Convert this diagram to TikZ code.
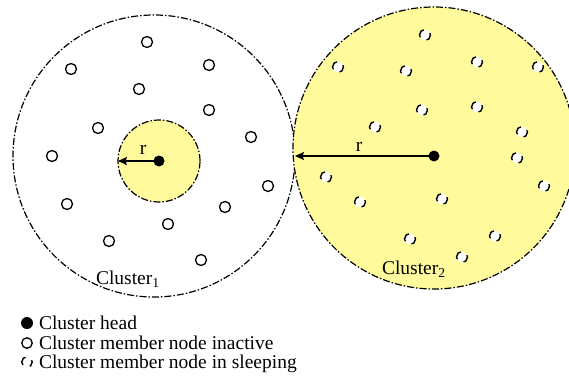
\documentclass[tikz,border=0pt]{standalone}
\usepackage{fontspec}
\setmainfont{Liberation Serif}
\usetikzlibrary{arrows.meta}
\definecolor{pale}{RGB}{255,250,155}
\begin{document}
\begin{tikzpicture}[x=1pt,y=-1pt,
  every node/.style={inner sep=0pt, outer sep=0pt},
  cluster/.style={circle, draw, line width=1.2pt, dash pattern=on 7pt off 2pt on 1.5pt off 2pt},
  inact/.style={circle, draw, line width=1.3pt, fill=white, minimum size=11pt},
  sleep/.style={circle, draw, fill=white, line width=1.4pt, minimum size=11pt, dash pattern=on 9.6pt off 7.7pt, dash phase=7.7pt},
  head/.style={circle, fill=black, minimum size=11pt},
  lbl/.style={font=\fontsize{19.5}{22}\selectfont},
  legtext/.style={lbl, anchor=base west, text height=13pt, text depth=4pt},
  rarrow/.style={line width=1.3pt, -{Stealth[length=9pt,width=8pt,inset=1.5pt]}}
]
\useasboundingbox (0,0) rectangle (569,375);
% clusters
\node[cluster, fill=white, minimum size=282pt] (c1) at (154,156) {};
\node[cluster, fill=pale, minimum size=282pt] (c2) at (434,148) {};
\node[cluster, fill=pale, minimum size=82pt] (c1in) at (159,161) {};
% heads
\node[head] (h1) at (159,161) {};
\node[head] (h2) at (434,156) {};
\coordinate (e1) at (118,161);
\coordinate (e2) at (295,156);
\draw[rarrow] (h1.center) -- (e1);
\draw[rarrow] (h2.center) -- (e2);
\node[lbl] (r1) at (143,150) {r};
\node[lbl] (r2) at (359,147) {r};
% inactive nodes in cluster 1
\node[inact] (a1) at (147,42) {};
\node[inact] (a2) at (71,69) {};
\node[inact] (a3) at (209,65) {};
\node[inact] (a4) at (139,89) {};
\node[inact] (a5) at (209,110) {};
\node[inact] (a6) at (98,128) {};
\node[inact] (a7) at (251,137) {};
\node[inact] (a8) at (52,156) {};
\node[inact] (a9) at (268,186) {};
\node[inact] (a10) at (67,204) {};
\node[inact] (a11) at (225,207) {};
\node[inact] (a12) at (168,224) {};
\node[inact] (a13) at (109,241) {};
\node[inact] (a14) at (201,260) {};
% sleeping nodes in cluster 2
\node[sleep] (s1) at (425,35) {};
\node[sleep] (s2) at (338,67) {};
\node[sleep] (s3) at (406,71) {};
\node[sleep] (s4) at (477,62) {};
\node[sleep] (s5) at (538,67) {};
\node[sleep] (s6) at (422,110) {};
\node[sleep] (s7) at (477,107) {};
\node[sleep] (s8) at (375,127) {};
\node[sleep] (s9) at (522,132) {};
\node[sleep] (s10) at (517,158) {};
\node[sleep] (s11) at (326,177) {};
\node[sleep] (s12) at (544,186) {};
\node[sleep] (s13) at (442,199) {};
\node[sleep] (s14) at (360,202) {};
\node[sleep] (s15) at (410,239) {};
\node[sleep] (s16) at (495,236) {};
\node[sleep] (s17) at (462,257) {};
% cluster labels
\node[lbl, anchor=west] (l1) at (96,279) {Cluster\textsubscript{1}};
\node[lbl, anchor=west] (l2) at (382,269) {Cluster\textsubscript{2}};
% legend
\node[head, minimum size=12pt] (k1) at (27,323) {};
\node[inact, minimum size=10.5pt] (k2) at (27,343) {};
\node[sleep, minimum size=10.5pt] (k3) at (27,362) {};
\node[legtext] (t1) at (39,329.5) {Cluster head};
\node[legtext] (t2) at (39,349.5) {Cluster member node inactive};
\node[legtext] (t3) at (39,368.5) {Cluster member node in sleeping};
\end{tikzpicture}
\end{document}
